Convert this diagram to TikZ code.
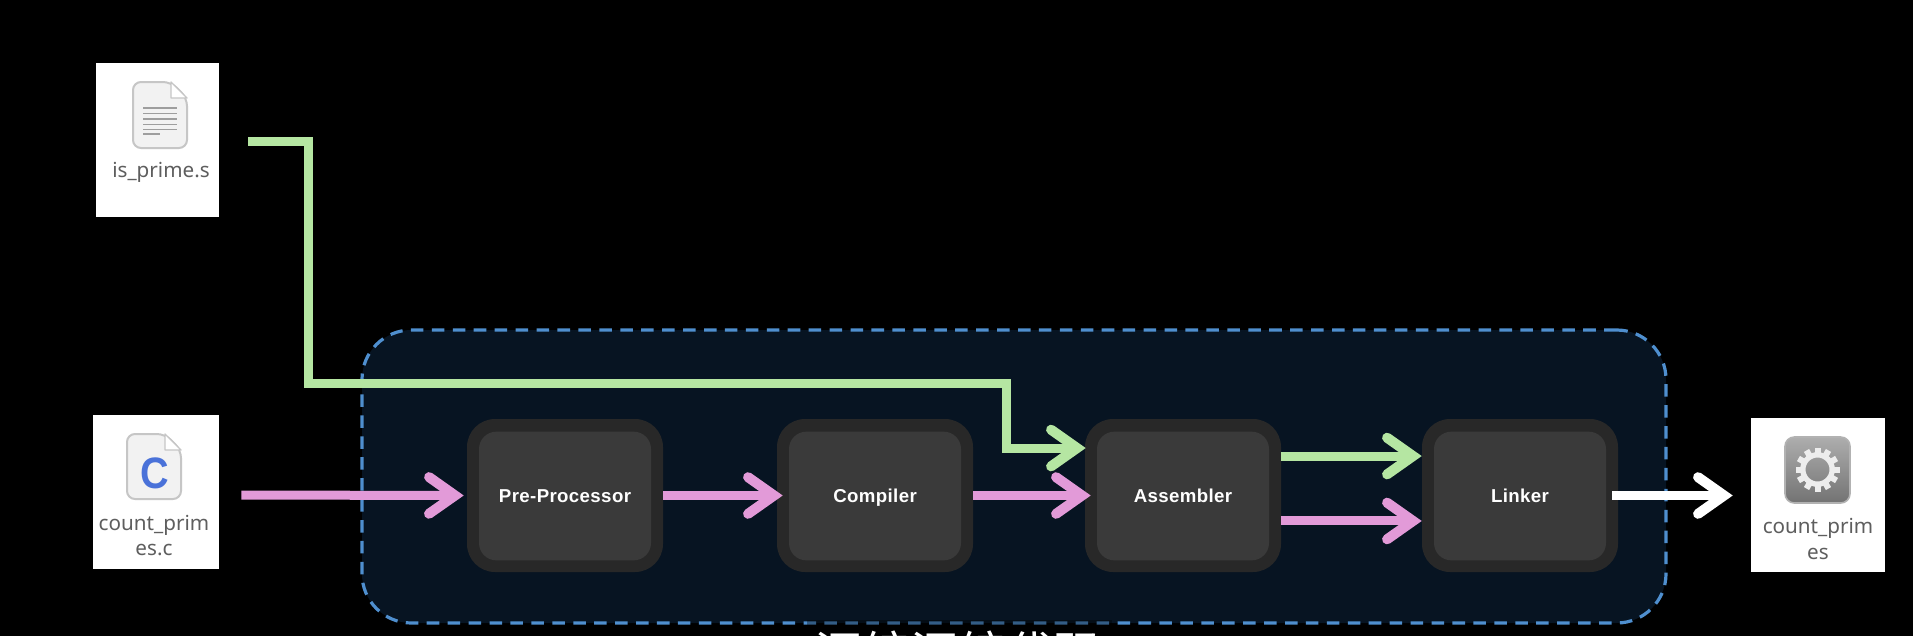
\documentclass[tikz,border=0pt]{standalone}
\usepackage{fontspec}
\usetikzlibrary{arrows.meta,calc}
\setmainfont{Liberation Sans}
\newfontfamily\boxfont[LetterSpace=2]{Liberation Sans}
\newfontfamily\filefont{Noto Sans}
\newfontfamily\cjkfont{Noto Sans CJK SC}
\definecolor{regionfill}{HTML}{071422}
\definecolor{regiondash}{HTML}{4F8FCF}
\definecolor{boxouter}{HTML}{282828}
\definecolor{boxinner}{HTML}{3A3A3A}
\definecolor{greenline}{HTML}{B5E6A2}
\definecolor{pinkline}{HTML}{E29AD8}
\definecolor{filetext}{HTML}{5E5E5E}
\definecolor{pagefill}{HTML}{F2F2F2}
\definecolor{pageedge}{HTML}{C6C6C6}
\definecolor{cblue}{HTML}{4A72D9}
\tikzset{
  region/.style={draw=regiondash,fill=regionfill,line width=2.4pt,dash pattern=on 9.4pt off 6.3pt,
    rounded corners=37pt,minimum width=978pt,minimum height=219.75pt,inner sep=0pt},
  stageouter/.style={fill=boxouter,rounded corners=21pt,minimum width=147pt,minimum height=114.75pt,inner sep=0pt},
  stageinner/.style={fill=boxinner,rounded corners=13pt,minimum width=129pt,minimum height=96.5pt,inner sep=0pt,
    text height=10pt,text depth=0pt,text=white,font=\boxfont\bfseries\fontsize{14}{16}\selectfont},
  card/.style={fill=white,inner sep=0pt},
  filelabel/.style={text=filetext,align=center,inner sep=0pt,font=\filefont\fontsize{15.5}{19.3}\selectfont},
  flow/.style={line width=6.75pt,line join=miter,-{Straight Barb[length=19.5pt,width=27.5pt,line width=7.5pt,line cap=round,line join=miter]}},
  greenflow/.style={flow,draw=greenline},
  pinkflow/.style={flow,draw=pinkline},
  whiteflow/.style={flow,draw=white},
  pageicon/.style={fill=pagefill,draw=pageedge,line width=1.5pt,rounded corners=6pt},
  foldicon/.style={fill=white,draw=pageedge,line width=1pt,line join=round},
  pagerule/.style={draw=black!38,line width=.9pt}
}
\begin{document}
\begin{tikzpicture}[x=.75pt,y=-.75pt]
\useasboundingbox (0,0) rectangle (1913,636);
\clip (0,0) rectangle (1913,636);
\fill[black] (0,0) rectangle (1913,636);

% enclosing region
\node[region] (box) at (1014,476.5) {};

% pipeline stages
\node[stageouter] (pre) at (565,495.5) {};
\node[stageinner] (prein) at (565,496) {Pre-Processor};
\node[stageouter] (comp) at (875,495.5) {};
\node[stageinner] (compin) at (875,496) {Compiler};
\node[stageouter] (asm) at (1183,495.5) {};
\node[stageinner] (asmin) at (1183,496) {Assembler};
\node[stageouter] (link) at (1520,495.5) {};
\node[stageinner] (linkin) at (1520,496) {Linker};

% file cards
\node[card,minimum width=92.25pt,minimum height=115.5pt] (isfile) at (157.5,140) {};
\node[card,minimum width=94.5pt,minimum height=115.5pt] (cfile) at (156,492) {};
\node[card,minimum width=100.5pt,minimum height=115.5pt] (outfile) at (1818,495) {};

% is_prime.s icon
\draw[pageicon] (133,82) -- (171,82) -- (187,98) -- (187,148) -- (133,148) -- cycle;
\draw[foldicon] (171,82) -- (171,98) -- (187,98) -- cycle;
\foreach \yy in {108,113.5,119,124.5,129.5} \draw[pagerule] (143,\yy) -- (177,\yy);
\draw[pagerule] (143,134) -- (160,134);
\node[filelabel] (islabel) at (161,172) {is\_prime.s};

% count_primes.c icon
\draw[pageicon] (127,434) -- (165,434) -- (181,450) -- (181,499) -- (127,499) -- cycle;
\draw[foldicon] (165,434) -- (165,450) -- (181,450) -- cycle;
\node[text=cblue,inner sep=0pt,xscale=.9,font=\bfseries\fontsize{33}{33}\selectfont] (cglyph) at (155,473) {C};
\node[filelabel] (clabel) at (154,535.5) {count\_prim\\es.c};

% count_primes icon
\shade[top color=black!32,bottom color=black!55,draw=black!30,line width=1.2pt,rounded corners=7pt]
  (1785,437) rectangle (1850,503);
\foreach \aa in {0,30,...,330}
  \fill[white!93!black,rotate around={\aa:(1817.5,469.5)}] (1814.5,447.5) rectangle (1820.5,456);
\draw[white!93!black,line width=4pt] (1817.5,469.5) circle[radius=11pt];
\node[filelabel] (outlabel) at (1818,539) {count\_prim\\es};

% connectors
\draw[pinkflow,shorten >=2.25pt] ([xshift=16.5pt,yshift=-2.25pt]cfile.east) -- (pre.west);
\draw[pinkflow,shorten >=-4.5pt] (pre.east) -- (comp.west);
\draw[pinkflow,shorten >=-4.5pt] (comp.east) -- (asm.west);
\coordinate (gturnA) at (308,383);
\coordinate (gturnB) at (1006,383);
\draw[greenflow,shorten >=-.75pt] ([xshift=21.75pt,yshift=-.75pt]isfile.east) -| (gturnA) -- (gturnB) |- ([yshift=35.6pt]asm.west);
\draw[greenflow] ([yshift=29.6pt]asm.east) -- ([yshift=29.6pt]link.west);
\draw[pinkflow] ([yshift=-19.1pt]asm.east) -- ([yshift=-19.1pt]link.west);
\draw[whiteflow,shorten >=13.5pt] ([xshift=-4.5pt]link.east) -- (outfile.west |- link.east);

% caption, cut by the lower edge
\fill[black,opacity=.35] (807,620) rectangle (1112,636);
\node[text=white,anchor=base,inner sep=0pt,font=\cjkfont\fontsize{36}{36}\selectfont] (caption) at (958,671) {汇编汇编代码};
\end{tikzpicture}
\end{document}
